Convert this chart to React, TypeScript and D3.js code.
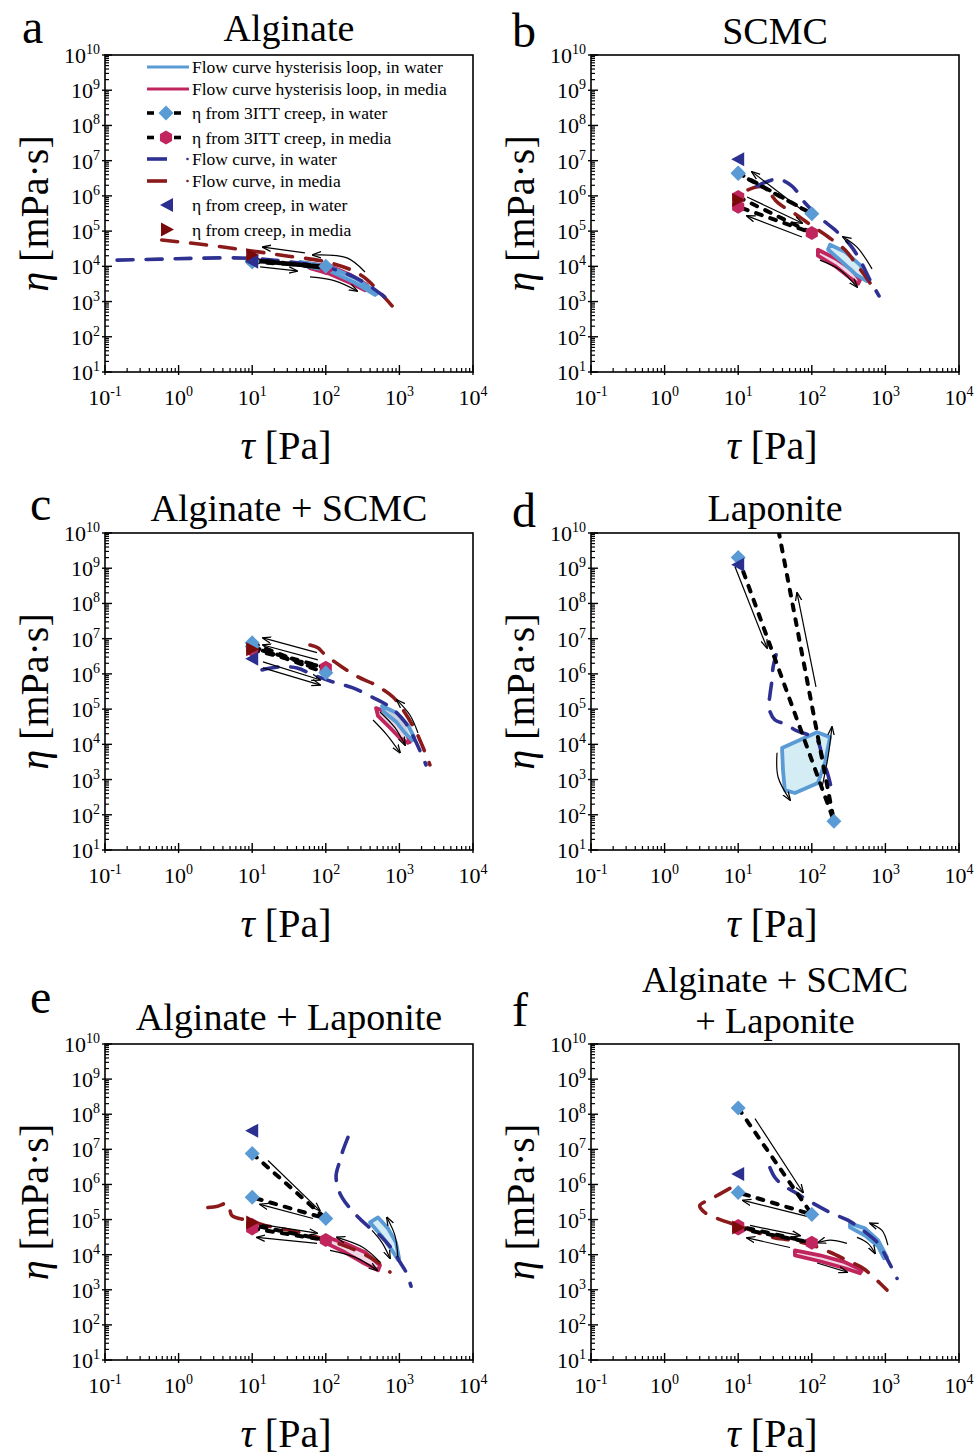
import React from "react";
import * as d3 from "d3";

type P = [number, number];

const W = 976;
const H = 1456;
const FONT = "'Liberation Serif', 'Times New Roman', serif";

const COLORS = {
  lightBlue: "#5b9bd5",
  crimson: "#c0255e",
  navy: "#2e3192",
  darkRed: "#8b1a1a",
  waterFill: "#cdeaf2",
  mediaFill: "#ecd0e0",
  triNavy: "#2b2f8f",
  triRed: "#7a0a0a",
};

const xTickExps = [-1, 0, 1, 2, 3, 4];
const yTickExps = [1, 2, 3, 4, 5, 6, 7, 8, 9, 10];

const legendLabels = [
  "Flow curve hysterisis loop, in water",
  "Flow curve hysterisis loop, in media",
  "η from 3ITT creep, in water",
  "η from 3ITT creep, in media",
  "Flow curve, in water",
  "Flow curve, in media",
  "η from creep, in water",
  "η from creep, in media",
];

// ---------- Panel a : Alginate ----------
const aFlowWater: P[] = [[0.146, 1.5e4], [0.56, 1.6e4], [1.95, 1.7e4], [9.3, 1.7e4], [32.7, 1.33e4], [114, 8.9e3], [292, 4.1e3], [631, 1.35e3]];
const aFlowMedia: P[] = [[0.59, 5.6e4], [2.29, 4.1e4], [8.0, 2.9e4], [27.9, 2.0e4], [114, 1.26e4], [310, 5.4e3], [794, 750]];
const aLoopWaterUp: P[] = [[44.6, 1.33e4], [114, 9.6e3], [249, 4.7e3], [512, 1.75e3]];
const aLoopWaterDown: P[] = [[44.6, 1.1e4], [114, 7.4e3], [249, 3.4e3], [466, 1.54e3]];
const aLoopMediaUp: P[] = [[52, 1.26e4], [114, 1.02e4], [213, 5.8e3], [363, 2.96e3]];
const aLoopMediaDown: P[] = [[61, 8.9e3], [114, 6.1e3], [213, 3.4e3], [341, 2.1e3]];
const aITTWater: P[] = [[10, 1.33e4], [100, 1.0e4], [10, 1.45e4]];
const aITTMedia: P[] = [[10, 1.6e4], [100, 8.9e3], [10, 1.5e4]];
const aCreepWater: P = [10, 1.35e4];
const aCreepMedia: P = [10, 2.1e4];
const aArrows: P[][] = [
  [[52, 2.4e4], [14, 3.5e4]],
  [[341, 6.9e3], [194, 1.74e4], [67, 2.1e4]],
  [[12.8, 9.6e3], [40.6, 7.4e3]],
  [[61, 5.0e3], [133, 3.85e3], [266, 2.0e3]],
];

// ---------- Panel b : SCMC ----------
const bFlowWater: P[] = [[18, 1.9e6], [33.7, 3.0e6], [53.8, 1.9e6], [81, 6.3e5], [129, 2.4e5], [207, 1.08e5], [330, 4.1e4], [452, 1.5e4], [618, 4.1e3], [819, 1.44e3]];
const bFlowMedia: P[] = [[13.6, 1.48e6], [21.7, 1.8e6], [34.8, 6.3e5], [59, 3.1e5], [101, 1.4e5], [166, 6.9e4], [282, 2.96e4], [398, 1.18e4], [580, 4.1e3], [769, 1.65e3]];
const bLoopWaterUp: P[] = [[177, 4.1e4], [282, 2.6e4], [452, 1.1e4], [580, 4.7e3]];
const bLoopWaterDown: P[] = [[166, 3.0e4], [258, 1.33e4], [398, 5.8e3], [560, 3.8e3]];
const bLoopMediaUp: P[] = [[121, 2.96e4], [207, 1.7e4], [352, 8e3], [452, 4.1e3]];
const bLoopMediaDown: P[] = [[121, 2.0e4], [207, 1.02e4], [330, 4.7e3], [425, 3.2e3]];
const bITTWater: P[] = [[10, 4.5e6], [100, 3.1e5], [10, 4.3e6]];
const bITTMedia: P[] = [[10, 9.3e5], [100, 8.9e4], [10, 4.9e5]];
const bCreepWater: P = [10, 1.1e7];
const bCreepMedia: P = [10, 7.7e5];
const bArrows: P[][] = [
  [[73.6, 4.0e5], [15.4, 4.8e6]],
  [[13.2, 9.3e5], [73.6, 1.7e5]],
  [[73.6, 6.8e4], [13.2, 2.7e5]],
  [[658, 8.5e3], [411, 3.5e4], [266, 6.8e4]],
  [[129, 1.5e4], [242, 7.9e3], [411, 2.6e3]],
];

// ---------- Panel c : Alginate + SCMC ----------
const cFlowWater: P[] = [[13.6, 1.3e6], [23.9, 1.58e6], [40.6, 1.48e6], [67, 9.4e5], [125, 5.9e5], [234, 4.0e5], [425, 2.2e5], [745, 1.15e5], [1190, 4.3e4], [1630, 1.33e4], [2300, 2.6e3]];
const cFlowMedia: P[] = [[61, 6.6e6], [78, 5.5e6], [95, 3.7e6], [166, 1.58e6], [274, 8.2e5], [466, 4.9e5], [819, 2.2e5], [1120, 9.6e4], [1630, 2.6e4], [2030, 9.6e3], [2600, 2.6e3]];
const cLoopWaterUp: P[] = [[580, 1.23e5], [927, 7.8e4], [1310, 3.5e4], [1580, 1.6e4]];
const cLoopWaterDown: P[] = [[617, 8.3e4], [900, 4.4e4], [1190, 2.1e4], [1500, 1.3e4]];
const cLoopMediaUp: P[] = [[481, 1.07e5], [794, 7.2e4], [1150, 3.3e4], [1390, 1.17e4]];
const cLoopMediaDown: P[] = [[512, 6.4e4], [745, 2.96e4], [1020, 1.5e4], [1300, 1.1e4]];
const cITTWater: P[] = [[10, 7.6e6], [100, 1.07e6], [10, 6.0e6]];
const cITTMedia: P[] = [[10, 4.8e6], [100, 1.5e6], [10, 5.5e6]];
const cCreepWater: P = [10, 2.7e6];
const cCreepMedia: P = [10, 5.0e6];
const cArrows: P[][] = [
  [[76, 4.0e6], [14, 1.05e7]],
  [[78, 2.5e6], [14, 6.6e6]],
  [[14, 2.2e6], [83, 6.8e5]],
  [[14, 1.48e6], [83, 4.9e5]],
  [[438, 4.9e4], [676, 1.86e4], [1020, 5.8e3]],
  [[545, 8.3e4], [871, 2.96e4], [1190, 9.6e3]],
  [[1790, 2.1e4], [1390, 6.8e4], [927, 1.8e5]],
];

// ---------- Panel d : Laponite ----------
const dFlowWater: P[] = [[32.7, 3.5e6], [29.7, 1.48e6], [28.8, 6.8e5], [27, 2.5e5], [26.2, 1.07e5], [31.6, 4.9e4], [43.2, 3.8e4], [63, 2.4e4], [89, 1.86e4], [118, 1.33e4], [142, 3.6e3], [166, 1.35e3], [194, 364]];
const dLoopWaterUp: P[] = [[40.6, 1.86e3], [39.4, 7.9e3], [118, 2.2e4], [177, 1.6e4]];
const dLoopWaterDown: P[] = [[43, 500], [59, 415], [121, 800], [151, 2.96e3]];
const dITTWater: P[] = [[10, 2e9], [200, 66], [32.4, 3e10]];
const dCreepWater: P = [10, 1.26e9];
const dArrows: P[][] = [
  [[9.05, 1.1e9], [24.6, 5.5e6]],
  [[114, 4.3e5], [63, 2.0e8]],
  [[33.7, 5.8e3], [34.8, 1.18e3], [50.6, 263]],
  [[138, 617], [166, 4.4e3], [188, 3.1e4]],
];

// ---------- Panel e : Alginate + Laponite ----------
const eFlowWater: P[] = [[200, 2.2e7], [171, 9.3e6], [156, 4.8e6], [138, 1.8e6], [147, 7.7e5], [166, 4.3e5], [227, 1.8e5], [363, 6.8e4], [545, 3.5e4], [819, 1.33e4], [1020, 6.1e3], [1230, 3.2e3], [1440, 1.26e3]];
const eFlowMedia: P[] = [[2.5, 2.2e5], [3.4, 2.4e5], [4.7, 2.9e5], [5.3, 1.3e5], [8.5, 9.6e4], [14.9, 6.8e4], [32.7, 4.9e4], [71, 3.3e4], [156, 2.0e4], [292, 1.17e4], [513, 6.1e3], [745, 3.2e3]];
const eLoopWaterUp: P[] = [[513, 1.15e5], [700, 5.6e4], [900, 2.2e4], [990, 7.9e3]];
const eLoopWaterDown: P[] = [[398, 8.3e4], [580, 3.3e4], [794, 1.33e4], [960, 7e3]];
const eLoopMediaUp: P[] = [[97.5, 3.3e4], [182, 2.1e4], [341, 1.17e4], [545, 5.0e3]];
const eLoopMediaDown: P[] = [[97.5, 2.2e4], [182, 1.17e4], [310, 6.1e3], [513, 3.6e3]];
const eITTWater: P[] = [[10, 7.6e6], [100, 1.07e5], [10, 4.3e5]];
const eITTMedia: P[] = [[10, 5.6e4], [100, 2.6e4], [10, 7.0e4]];
const eCreepWater: P = [10, 3.4e7];
const eCreepMedia: P = [10, 8.3e4];
const eArrows: P[][] = [
  [[16.4, 4.8e6], [83, 1.8e5]],
  [[67, 1.07e5], [12.8, 2.7e5]],
  [[13.6, 7.2e4], [76, 4.1e4]],
  [[76, 2.1e4], [11.6, 3.1e4]],
  [[545, 6.1e3], [321, 1.6e4], [142, 3.1e4]],
  [[114, 1.33e4], [249, 8.5e3], [497, 3.6e3]],
  [[955, 8.5e3], [871, 3.5e4], [676, 1.15e5]],
  [[425, 4.9e4], [580, 2.2e4], [745, 7.9e3]],
];

// ---------- Panel f : Alginate + SCMC + Laponite ----------
const fFlowWater: P[] = [[27, 3.0e6], [31.6, 1.58e6], [39.4, 1.0e6], [63, 5.5e5], [104, 2.9e5], [188, 1.5e5], [309, 9.6e4], [497, 4.9e4], [794, 2.1e4], [1080, 6.9e3], [1440, 2.1e3]];
const fFlowMedia: P[] = [[7.7, 7.7e5], [4.4, 4.0e5], [3.0, 2.5e5], [3.5, 1.6e5], [5.2, 1.07e5], [10.6, 6.4e4], [29.7, 3.1e4], [50.6, 2.6e4], [101, 1.86e4], [177, 1.17e4], [300, 6.9e3], [497, 4.1e3], [845, 1.54e3], [1050, 980]];
const fLoopWaterUp: P[] = [[330, 7.8e4], [529, 5.6e4], [794, 2.6e4], [1050, 8.5e3]];
const fLoopWaterDown: P[] = [[330, 6.0e4], [529, 3.5e4], [794, 1.74e4], [955, 7.9e3]];
const fLoopMediaUp: P[] = [[59, 1.33e4], [129, 9.6e3], [282, 6.1e3], [481, 3.6e3]];
const fLoopMediaDown: P[] = [[59, 9.6e3], [129, 6.5e3], [282, 4.1e3], [452, 2.96e3]];
const fITTWater: P[] = [[10, 1.5e8], [100, 1.4e5], [10, 5.9e5]];
const fITTMedia: P[] = [[10, 5.6e4], [100, 2.2e4], [10, 6.5e4]];
const fCreepWater: P = [10, 2.0e6];
const fCreepMedia: P = [10, 5.9e4];
const fArrows: P[][] = [
  [[16.9, 7.5e7], [76, 5.9e5]],
  [[86, 1.23e5], [11.6, 3.5e5]],
  [[14.5, 6.8e4], [69, 3.5e4]],
  [[50.6, 1.6e4], [13.2, 3.0e4]],
  [[1080, 1.86e4], [900, 4.9e4], [617, 7.8e4]],
  [[411, 3.1e4], [580, 2.1e4], [723, 1.1e4]],
  [[300, 2.1e4], [177, 2.6e4], [121, 2.2e4]],
  [[118, 5.8e3], [300, 3.2e3]],
];

interface PanelSpec {
  id: string;
  x0: number; x1: number; top: number; bottom: number;
  titles: string[]; titleYs: number[]; titleSize: number;
  letterX: number; letterY: number;
  flowWater?: P[]; flowMedia?: P[];
  loopWater?: [P[], P[]]; loopMedia?: [P[], P[]];
  ittWater?: P[]; ittMedia?: P[];
  creepWater?: P; creepMedia?: P;
  arrows: P[][];
}

const panels: PanelSpec[] = [
  { id: "a", x0: 105, x1: 473, top: 55, bottom: 372, titles: ["Alginate"], titleYs: [41], titleSize: 38, letterX: 22, letterY: 43,
    flowWater: aFlowWater, flowMedia: aFlowMedia, loopWater: [aLoopWaterUp, aLoopWaterDown], loopMedia: [aLoopMediaUp, aLoopMediaDown],
    ittWater: aITTWater, ittMedia: aITTMedia, creepWater: aCreepWater, creepMedia: aCreepMedia, arrows: aArrows },
  { id: "b", x0: 591, x1: 959, top: 55, bottom: 372, titles: ["SCMC"], titleYs: [44], titleSize: 38, letterX: 512, letterY: 47,
    flowWater: bFlowWater, flowMedia: bFlowMedia, loopWater: [bLoopWaterUp, bLoopWaterDown], loopMedia: [bLoopMediaUp, bLoopMediaDown],
    ittWater: bITTWater, ittMedia: bITTMedia, creepWater: bCreepWater, creepMedia: bCreepMedia, arrows: bArrows },
  { id: "c", x0: 105, x1: 473, top: 533, bottom: 850, titles: ["Alginate + SCMC"], titleYs: [521], titleSize: 38, letterX: 30, letterY: 520,
    flowWater: cFlowWater, flowMedia: cFlowMedia, loopWater: [cLoopWaterUp, cLoopWaterDown], loopMedia: [cLoopMediaUp, cLoopMediaDown],
    ittWater: cITTWater, ittMedia: cITTMedia, creepWater: cCreepWater, creepMedia: cCreepMedia, arrows: cArrows },
  { id: "d", x0: 591, x1: 959, top: 533, bottom: 850, titles: ["Laponite"], titleYs: [521], titleSize: 38, letterX: 512, letterY: 527,
    flowWater: dFlowWater, loopWater: [dLoopWaterUp, dLoopWaterDown],
    ittWater: dITTWater, creepWater: dCreepWater, arrows: dArrows },
  { id: "e", x0: 105, x1: 473, top: 1044, bottom: 1360, titles: ["Alginate + Laponite"], titleYs: [1030], titleSize: 38, letterX: 30, letterY: 1013,
    flowWater: eFlowWater, flowMedia: eFlowMedia, loopWater: [eLoopWaterUp, eLoopWaterDown], loopMedia: [eLoopMediaUp, eLoopMediaDown],
    ittWater: eITTWater, ittMedia: eITTMedia, creepWater: eCreepWater, creepMedia: eCreepMedia, arrows: eArrows },
  { id: "f", x0: 591, x1: 959, top: 1044, bottom: 1360, titles: ["Alginate + SCMC", "+ Laponite"], titleYs: [992, 1033], titleSize: 36.5, letterX: 512, letterY: 1026,
    flowWater: fFlowWater, flowMedia: fFlowMedia, loopWater: [fLoopWaterUp, fLoopWaterDown], loopMedia: [fLoopMediaUp, fLoopMediaDown],
    ittWater: fITTWater, ittMedia: fITTMedia, creepWater: fCreepWater, creepMedia: fCreepMedia, arrows: fArrows },
];

const diamondPath = "M0,-7.5L7.5,0L0,7.5L-7.5,0Z";
const hexPath = (() => {
  const r = 7;
  const pts = d3.range(6).map((i) => {
    const a = (Math.PI / 3) * i - Math.PI / 2;
    return `${(r * Math.cos(a)).toFixed(2)},${(r * Math.sin(a)).toFixed(2)}`;
  });
  return "M" + pts.join("L") + "Z";
})();
const triLeftPath = "M-7,0L6,-7L6,7Z";
const triRightPath = "M7,0L-6,-7L-6,7Z";

function Panel({ p }: { p: PanelSpec }) {
  const sx = d3.scaleLog().domain([0.1, 1e4]).range([p.x0, p.x1]);
  const sy = d3.scaleLog().domain([10, 1e10]).range([p.bottom, p.top]);
  const smooth = d3.line<P>().x((d) => sx(d[0])).y((d) => sy(d[1])).curve(d3.curveCatmullRom.alpha(0.5));
  const straight = d3.line<P>().x((d) => sx(d[0])).y((d) => sy(d[1]));
  const closed = d3.line<P>().x((d) => sx(d[0])).y((d) => sy(d[1])).curve(d3.curveLinearClosed);

  const minorX: number[] = [];
  for (let e = -1; e < 4; e++) for (let k = 2; k <= 9; k++) minorX.push(k * Math.pow(10, e));
  const minorY: number[] = [];
  for (let e = 1; e < 10; e++) for (let k = 2; k <= 9; k++) minorY.push(k * Math.pow(10, e));

  const cx = (p.x0 + p.x1) / 2;
  const cy = (p.top + p.bottom) / 2;
  const clip = `url(#clip-${p.id})`;

  const loop = (l: [P[], P[]], stroke: string, fill: string) => (
    <path d={closed(l[0].concat(l[1].slice().reverse())) || ""} fill={fill} fillOpacity={0.85}
      stroke={stroke} strokeWidth={3.8} strokeLinejoin="round" />
  );

  return (
    <g>
      {p.titles.map((t, i) => (
        <text key={i} x={cx} y={p.titleYs[i]} textAnchor="middle" fontSize={p.titleSize}>{t}</text>
      ))}
      <text x={p.letterX} y={p.letterY} fontSize={48}>{p.id}</text>

      <g clipPath={clip}>
        {p.loopMedia && loop(p.loopMedia, COLORS.crimson, COLORS.mediaFill)}
        {p.loopWater && loop(p.loopWater, COLORS.lightBlue, COLORS.waterFill)}
        {p.flowMedia && (
          <path d={smooth(p.flowMedia) || ""} fill="none" stroke={COLORS.darkRed} strokeWidth={3.6}
            strokeDasharray="16,13" strokeLinecap="round" />
        )}
        {p.flowWater && (
          <path d={smooth(p.flowWater) || ""} fill="none" stroke={COLORS.navy} strokeWidth={3.6}
            strokeDasharray="16,13" strokeLinecap="round" />
        )}
        {p.ittWater && (
          <path d={straight(p.ittWater) || ""} fill="none" stroke="#000" strokeWidth={4}
            strokeDasharray="6,9" strokeLinecap="round" />
        )}
        {p.ittMedia && (
          <path d={straight(p.ittMedia) || ""} fill="none" stroke="#000" strokeWidth={4}
            strokeDasharray="6,9" strokeLinecap="round" />
        )}
        {p.arrows.map((a, i) => (
          <path key={i} d={(a.length > 2 ? smooth(a) : straight(a)) || ""} fill="none" stroke="#000"
            strokeWidth={1.2} markerEnd="url(#arrowHead)" />
        ))}
        {p.ittMedia && p.ittMedia.map((d, i) => (
          <path key={"hm" + i} d={hexPath} transform={`translate(${sx(d[0])},${sy(d[1])})`} fill={COLORS.crimson} />
        ))}
        {p.ittWater && p.ittWater.map((d, i) => (
          <path key={"dw" + i} d={diamondPath} transform={`translate(${sx(d[0])},${sy(d[1])})`} fill={COLORS.lightBlue} />
        ))}
        {p.creepMedia && (
          <path d={triRightPath} transform={`translate(${sx(p.creepMedia[0])},${sy(p.creepMedia[1])})`} fill={COLORS.triRed} />
        )}
        {p.creepWater && (
          <path d={triLeftPath} transform={`translate(${sx(p.creepWater[0])},${sy(p.creepWater[1])})`} fill={COLORS.triNavy} />
        )}
      </g>

      <rect x={p.x0} y={p.top} width={p.x1 - p.x0} height={p.bottom - p.top} fill="none" stroke="#000" strokeWidth={1.6} />

      {minorX.map((v, i) => (
        <line key={"mx" + i} x1={sx(v)} x2={sx(v)} y1={p.bottom} y2={p.bottom - 4} stroke="#000" strokeWidth={1.2} />
      ))}
      {xTickExps.map((e) => (
        <g key={"X" + e}>
          <line x1={sx(Math.pow(10, e))} x2={sx(Math.pow(10, e))} y1={p.bottom + 3} y2={p.bottom - 7} stroke="#000" strokeWidth={1.4} />
          <text x={sx(Math.pow(10, e))} y={p.bottom + 33} textAnchor="middle" fontSize={22}>
            10<tspan dy={-9} fontSize={14}>{e}</tspan>
          </text>
        </g>
      ))}

      {minorY.map((v, i) => (
        <line key={"my" + i} x1={p.x0} x2={p.x0 + 4} y1={sy(v)} y2={sy(v)} stroke="#000" strokeWidth={1.2} />
      ))}
      {yTickExps.map((e) => (
        <g key={"Y" + e}>
          <line x1={p.x0 - 3} x2={p.x0 + 7} y1={sy(Math.pow(10, e))} y2={sy(Math.pow(10, e))} stroke="#000" strokeWidth={1.4} />
          <text x={p.x0 - 5} y={sy(Math.pow(10, e)) + 8} textAnchor="end" fontSize={22}>
            10<tspan dy={-9} fontSize={14}>{e}</tspan>
          </text>
        </g>
      ))}

      <text x={cx - 3} y={p.bottom + 87} textAnchor="middle" fontSize={40}>
        <tspan fontStyle="italic">τ</tspan> [Pa]
      </text>
      <text transform={`translate(${p.x0 - 57},${cy}) rotate(-90)`} textAnchor="middle" fontSize={40}>
        <tspan fontStyle="italic">η</tspan> [mPa·s]
      </text>
    </g>
  );
}

function Legend() {
  const rows = [67, 89, 113, 137.5, 159, 181, 205, 229.5];
  const tx = 192;
  return (
    <g fontSize={17.5}>
      <line x1={147} x2={189} y1={rows[0]} y2={rows[0]} stroke={COLORS.lightBlue} strokeWidth={3} />
      <line x1={147} x2={189} y1={rows[1]} y2={rows[1]} stroke={COLORS.crimson} strokeWidth={3} />
      {[2, 3].map((r) => (
        <g key={r}>
          <line x1={147} x2={154} y1={rows[r]} y2={rows[r]} stroke="#000" strokeWidth={3.6} />
          <line x1={174} x2={181} y1={rows[r]} y2={rows[r]} stroke="#000" strokeWidth={3.6} />
          <path d={r === 2 ? diamondPath : hexPath} transform={`translate(166,${rows[r]})`}
            fill={r === 2 ? COLORS.lightBlue : COLORS.crimson} />
        </g>
      ))}
      <line x1={147} x2={167} y1={rows[4]} y2={rows[4]} stroke={COLORS.navy} strokeWidth={3.6} />
      <circle cx={187.5} cy={rows[4]} r={1.3} fill={COLORS.navy} />
      <line x1={147} x2={167} y1={rows[5]} y2={rows[5]} stroke={COLORS.darkRed} strokeWidth={3.6} />
      <circle cx={187.5} cy={rows[5]} r={1.3} fill={COLORS.darkRed} />
      <path d={triLeftPath} transform={`translate(167,${rows[6]})`} fill={COLORS.triNavy} />
      <path d={triRightPath} transform={`translate(167,${rows[7]})`} fill={COLORS.triRed} />
      {legendLabels.map((t, i) => (
        <text key={i} x={tx} y={rows[i] + 6}>{t}</text>
      ))}
    </g>
  );
}

export default function App() {
  return (
    <svg width={W} height={H} style={{ position: "absolute", left: 0, top: 0 }} fontFamily={FONT}>
      <defs>
        <marker id="arrowHead" viewBox="0 0 10 10" refX="9" refY="5" markerWidth="9" markerHeight="9"
          markerUnits="userSpaceOnUse" orient="auto">
          <path d="M0,1.5 L10,5 L0,8.5" fill="none" stroke="#000" strokeWidth="1.4" />
        </marker>
        {panels.map((p) => (
          <clipPath key={p.id} id={`clip-${p.id}`}>
            <rect x={p.x0} y={p.top} width={p.x1 - p.x0} height={p.bottom - p.top} />
          </clipPath>
        ))}
      </defs>
      <rect x={0} y={0} width={W} height={H} fill="#fff" />
      {panels.map((p) => (
        <Panel key={p.id} p={p} />
      ))}
      <Legend />
    </svg>
  );
}
